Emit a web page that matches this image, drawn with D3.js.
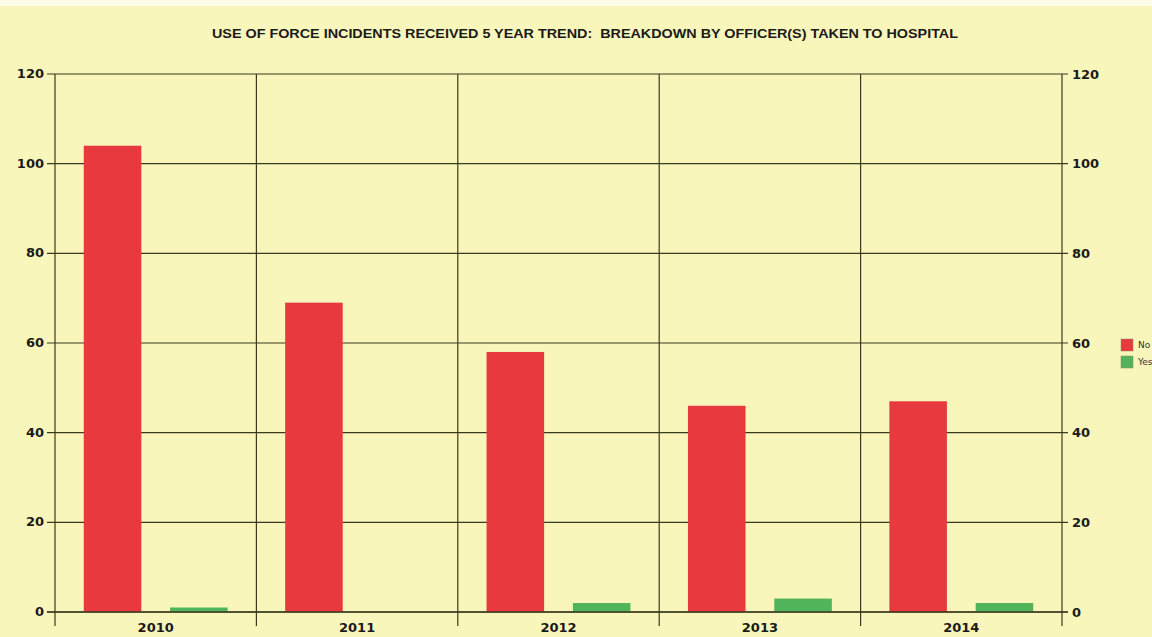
<!DOCTYPE html>
<html>
<head>
<meta charset="utf-8">
<script src="https://d3js.org/d3.v7.min.js"></script>
<style>
html,body{margin:0;padding:0;background:#f8f6bb;}
svg{display:block;}
</style>
</head>
<body>
<svg id="chart" width="1152" height="637"></svg>
<script>
const title = "USE OF FORCE INCIDENTS RECEIVED 5 YEAR TREND:  BREAKDOWN BY OFFICER(S) TAKEN TO HOSPITAL";
const categories = ["2010", "2011", "2012", "2013", "2014"];
const seriesNames = ["No", "Yes"];
const noValues = [104, 69, 58, 46, 47];
const yesValues = [1, 0, 2, 3, 2];
const yTicks = [0, 20, 40, 60, 80, 100, 120];
const colors = ["#e8393f", "#52b45a"];

const svg = d3.select("#chart");
const W = 1152, H = 637;
const x0 = 55, x1 = 1062, y0 = 612, y1 = 74;

svg.append("rect").attr("width", W).attr("height", H).attr("fill", "#f8f6bb");
svg.append("rect").attr("width", W).attr("height", 6).attr("fill", "#fdfde8");

const x = d3.scaleBand().domain(categories).range([x0, x1]).paddingInner(0).paddingOuter(0);
const xs = d3.scaleBand().domain(seriesNames).range([0, x.bandwidth()]).paddingInner(1/3).paddingOuter(1/3);
const y = d3.scaleLinear().domain([0, 120]).range([y0, y1]);

const gridColor = "#3a3a1e";

svg.append("g").selectAll("line").data(yTicks).join("line")
  .attr("x1", x0 - 8).attr("x2", x1 + 6)
  .attr("y1", d => y(d)).attr("y2", d => y(d))
  .attr("stroke", gridColor).attr("stroke-width", 1.2);

const bounds = categories.map(c => x(c)).concat([x1]);
svg.append("g").selectAll("line").data(bounds).join("line")
  .attr("x1", d => d).attr("x2", d => d)
  .attr("y1", y1).attr("y2", y0 + 14)
  .attr("stroke", gridColor).attr("stroke-width", 1.2);

const data = [];
categories.forEach((c, i) => {
  data.push({cat: c, s: "No", v: noValues[i]});
  data.push({cat: c, s: "Yes", v: yesValues[i]});
});
svg.append("g").selectAll("rect").data(data).join("rect")
  .attr("x", d => x(d.cat) + xs(d.s))
  .attr("width", xs.bandwidth())
  .attr("y", d => y(d.v))
  .attr("height", d => y(0) - y(d.v))
  .attr("fill", d => colors[seriesNames.indexOf(d.s)]);

svg.append("line").attr("x1", x0 - 8).attr("x2", x1 + 6).attr("y1", y(0)).attr("y2", y(0))
  .attr("stroke", gridColor).attr("stroke-width", 1.4);

const font = "'DejaVu Sans', Verdana, sans-serif";
svg.append("g").selectAll("text").data(yTicks).join("text")
  .attr("x", x0 - 11).attr("y", d => y(d)).attr("dy", "0.3em")
  .attr("text-anchor", "end")
  .attr("font-family", font).attr("font-weight", "bold").attr("font-size", 13)
  .attr("fill", "#1a1a1a").text(d => d);
svg.append("g").selectAll("text").data(yTicks).join("text")
  .attr("x", x1 + 10).attr("y", d => y(d)).attr("dy", "0.35em")
  .attr("text-anchor", "start")
  .attr("font-family", font).attr("font-weight", "bold").attr("font-size", 13)
  .attr("fill", "#1a1a1a").text(d => d);
svg.append("g").selectAll("text").data(categories).join("text")
  .attr("x", d => x(d) + x.bandwidth() / 2).attr("y", 632)
  .attr("text-anchor", "middle")
  .attr("font-family", font).attr("font-weight", "bold").attr("font-size", 13)
  .attr("fill", "#1a1a1a").text(d => d);

svg.append("text").attr("x", 585).attr("y", 38).attr("text-anchor", "middle")
  .style("white-space", "pre")
  .attr("font-family", "'Liberation Sans', Arial, sans-serif").attr("font-weight", "bold")
  .attr("font-size", 12.5).attr("textLength", 746).attr("lengthAdjust", "spacingAndGlyphs")
  .attr("fill", "#1a1a1a").text(title);

const lg = svg.append("g").attr("transform", "translate(1121,339)");
seriesNames.forEach((s, i) => {
  lg.append("rect").attr("x", 0).attr("y", i * 17).attr("width", 12).attr("height", 12)
    .attr("fill", colors[i]).attr("stroke", "#8a8a60").attr("stroke-width", 0.5);
  lg.append("text").attr("x", 17).attr("y", i * 17 + 9)
    .attr("font-family", font).attr("font-size", 9).attr("fill", "#333").text(s);
});
</script>
</body>
</html>
